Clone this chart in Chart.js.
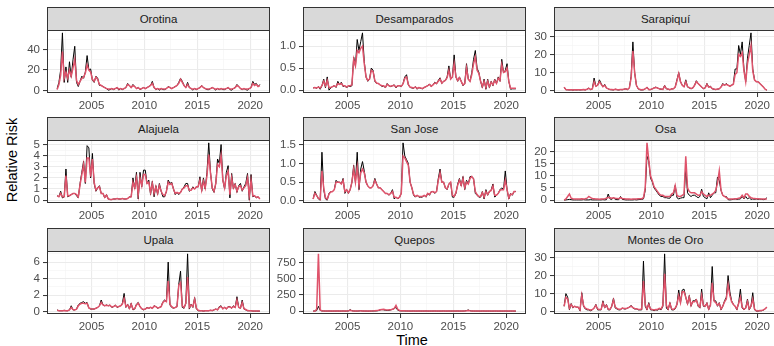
<!DOCTYPE html>
<html>
<head>
<meta charset="utf-8">
<script src="https://cdn.jsdelivr.net/npm/chart.js@4.4.0/dist/chart.umd.min.js"></script>
<style>
  html, body { margin: 0; padding: 0; background: #fff; overflow: hidden; }
  #wrap { position: relative; width: 774px; height: 346px; overflow: hidden;
          font-family: "Liberation Sans", Arial, sans-serif; }
  .strip { position: absolute; box-sizing: border-box; background: #D9D9D9;
           border: 1px solid #333333; color: #1A1A1A; font-size: 11.5px;
           text-align: center; line-height: 22px; }
  canvas { position: absolute; }
  .title { position: absolute; color: #000; font-size: 14.5px; white-space: nowrap;
           transform: translate(-50%, -50%); }
</style>
</head>
<body>
<div id="wrap">
  <div class="title" style="left:12px; top:160px; transform: translate(-50%, -50%) rotate(-90deg);">Relative Risk</div>
  <div class="title" style="left:412px; top:340px;">Time</div>
</div>
<script>
// time axis: bimonthly points from late 2001 to late 2020
const startYear = 2001.75;
const stepYears = 1 / 6;

const regions = ['Orotina', 'Desamparados', 'Sarapiquí', 'Alajuela', 'San Jose', 'Osa',
                 'Upala', 'Quepos', 'Montes de Oro'];
const yMajorSteps = [20, 0.5, 10, 1, 0.5, 5, 2, 250, 10];
const yDecimals = [0, 1, 0, 0, 1, 0, 0, 0, 0];
const xMajorStep = 5;

// observed (black) and fitted (red), one row per year 2002..2020
const orotinaObs = [2, 8,
  20, 56, 8, 23, 8, 28,
  13, 30, 43, 8, 4, 9,
  14, 12, 18, 34, 20, 21,
  10, 8, 14, 12, 5, 5,
  4, 3, 2, 0.5, 1, 2,
  1, 2, 3, 0.5, 2, 1,
  2, 3, 7, 5, 3, 6,
  4, 2, 3, 1, 2, 3,
  2, 3, 4, 5, 9, 3,
  1, 2, 0.5, 2, 1, 1,
  2, 4, 3, 2, 3, 4,
  5, 8, 12, 9, 5, 3,
  8, 3, 2, 0.5, 2, 1,
  2, 3, 5, 3, 2, 1,
  1, 2, 3, 2, 0.5, 2,
  1, 2, 1, 1, 2, 3,
  1, 0.5, 2, 3, 6, 4,
  2, 1, 2, 1, 0.5, 2,
  3, 9, 6, 7, 4, 6];
const orotinaFit = [1, 6,
  15, 38, 12, 18, 12, 20,
  14, 22, 30, 10, 6, 9,
  12, 13, 17, 25, 20, 18,
  11, 9, 13, 11, 6, 5,
  4, 3, 2, 1.5, 1.5, 2,
  1.5, 2, 3, 1.5, 2, 1.5,
  2, 3, 6, 5, 3, 5,
  4, 2, 3, 1.5, 2, 3,
  2, 3, 4, 5, 7, 3,
  1.5, 2, 1.5, 2, 1.5, 1.5,
  2, 3.5, 3, 2, 3, 4,
  5, 7, 11, 8, 5, 3,
  6, 3, 2, 1.5, 2, 1.5,
  2, 3, 4.5, 3, 2, 1.5,
  1.5, 2, 3, 2, 1.5, 2,
  1.5, 2, 1.5, 1.5, 2, 3,
  1.5, 1.5, 2, 3, 5, 4,
  2, 1.5, 2, 1.5, 1.5, 2,
  3, 7, 5, 6, 4, 5];

const desamparadosObs = [0.05, 0.06,
  0.04, 0.08, 0.02, 0.1, 0.25, 0.05,
  0.3, 0.0, 0.05, 0.08, 0.1, 0.06,
  0.2, 0.12, 0.18, 0.08, 0.1, 0.05,
  0.1, 0.08, 0.1, 0.75, 0.55, 1.15,
  0.9, 1.1, 1.3, 0.65, 0.3, 0.2,
  0.25, 0.5, 0.45, 0.2, 0.15, 0.15,
  0.12, 0.08, 0.1, 0.05, 0.15, 0.1,
  0.08, 0.1, 0.12, 0.05, 0.1, 0.1,
  0.08, 0.15, 0.3, 0.35, 0.12, 0.06,
  0.05, 0.04, 0.08, 0.02, 0.06, 0.04,
  0.03, 0.06, 0.08, 0.1, 0.14, 0.08,
  0.12, 0.18, 0.14, 0.22, 0.28, 0.15,
  0.2, 0.22, 0.3, 0.55, 0.25, 0.3,
  0.8, 0.3, 0.2, 0.3, 0.2, 0.1,
  0.15, 0.6, 0.25, 0.2, 0.4, 0.7,
  0.9, 0.5, 0.4, 0.2, 0.05, 0.25,
  0.02, 0.25, 0.05, 0.2, 0.1, 0.25,
  0.15, 0.3, 0.2, 0.7, 0.4, 0.45,
  0.6, 0.2, 0.02, 0.03, 0.03, 0.03];
const desamparadosFit = [0.05, 0.06,
  0.05, 0.07, 0.05, 0.1, 0.2, 0.1,
  0.22, 0.06, 0.06, 0.08, 0.1, 0.08,
  0.15, 0.13, 0.15, 0.1, 0.1, 0.07,
  0.1, 0.1, 0.12, 0.7, 0.55, 0.9,
  0.85, 0.95, 1.0, 0.6, 0.3, 0.22,
  0.25, 0.45, 0.42, 0.22, 0.16, 0.15,
  0.12, 0.1, 0.1, 0.07, 0.13, 0.1,
  0.09, 0.1, 0.11, 0.07, 0.1, 0.1,
  0.09, 0.14, 0.27, 0.3, 0.13, 0.07,
  0.06, 0.05, 0.07, 0.04, 0.06, 0.05,
  0.04, 0.06, 0.08, 0.1, 0.13, 0.09,
  0.12, 0.16, 0.15, 0.2, 0.25, 0.16,
  0.2, 0.22, 0.28, 0.45, 0.25, 0.3,
  0.6, 0.3, 0.22, 0.28, 0.2, 0.12,
  0.15, 0.5, 0.25, 0.2, 0.35, 0.6,
  0.75, 0.45, 0.38, 0.2, 0.08, 0.2,
  0.06, 0.2, 0.08, 0.18, 0.12, 0.22,
  0.15, 0.27, 0.22, 0.58, 0.4, 0.42,
  0.5, 0.2, 0.04, 0.04, 0.04, 0.04];

const sarapiquiObs = [2, 0.5,
  0.5, 0.4, 0.5, 0.3, 0.5, 0.4,
  0.5, 0.4, 0.5, 0.6, 0.4, 0.8,
  1.5, 0.5, 1, 7, 2.5, 3,
  6, 4, 2, 3.5, 1.5, 1,
  0.6, 0.5, 0.4, 0.8, 0.5, 0.4,
  0.6, 0.5, 0.8, 1, 0.6, 1.5,
  8, 27, 10, 3, 1, 0.5,
  0.4, 0.5, 1, 2, 0.5, 0.6,
  1, 1.5, 2, 1.5, 1, 0.8,
  0.6, 3, 1, 0.8, 0.5, 1,
  1, 2, 6, 10, 5, 3,
  2, 6, 2, 1.5, 1, 1.5,
  3, 5.5, 4, 3, 2, 1,
  1.5, 4, 2, 2.5, 1, 0.8,
  0.6, 0.8, 1, 2, 4, 3,
  4, 3, 2.5, 3, 4, 12,
  12, 25, 20, 27, 12, 5,
  18, 25, 32, 12, 6, 5,
  5, 4, 3, 2, 0.8, 0.3];
const sarapiquiFit = [2, 0.6,
  0.5, 0.5, 0.5, 0.4, 0.5, 0.5,
  0.5, 0.5, 0.5, 0.6, 0.5, 0.8,
  1.3, 0.7, 1, 5, 2.5, 3,
  5, 3.5, 2.2, 3, 1.5, 1,
  0.7, 0.6, 0.5, 0.8, 0.6, 0.5,
  0.6, 0.6, 0.8, 1, 0.7, 1.5,
  7, 22, 10, 3, 1.2, 0.6,
  0.5, 0.6, 1, 1.8, 0.7, 0.7,
  1, 1.5, 1.8, 1.5, 1, 0.9,
  0.7, 2.5, 1.1, 0.9, 0.6, 1,
  1, 2, 5.5, 9.5, 5, 3,
  2.2, 5, 2.3, 1.7, 1.2, 1.5,
  3, 5, 4, 3, 2, 1.2,
  1.5, 3.5, 2, 2.2, 1.2, 0.9,
  0.7, 0.9, 1, 2, 3.5, 3,
  3.5, 3, 2.5, 3, 3.5, 9,
  10, 20, 19, 21, 11, 5,
  15, 20, 25, 11, 6, 5,
  5, 4, 3, 2, 0.8, 0.3];

const alajuelaObs = [0.4, 0.3,
  0.8, 0.2, 0.3, 2.8, 0.3, 0.4,
  0.5, 0.6, 0.6, 0.4, 0.2, 1.5,
  2.5, 3.5, 1.5, 4.9, 4.7, 2.0,
  4.2, 1.5, 0.8, 1.1, 1.3, 0.6,
  0.6, 0.2, 0.5, 0.1, 0.05, 0.05,
  0.1, 0.1, 0.15, 0.1, 0.1, 0.15,
  0.1, 0.1, 0.15, 0.3, 0.3, 2.0,
  1.0, 2.5, 0.1, 2.5, 1.2, 2.7,
  2.7, 1.5, 1.8, 0.5, 1.7, 0.3,
  1.3, 0.5, 1.5, 0.8, 0.3, 0.3,
  0.8, 1.8, 1.5, 1.6, 1.0, 0.5,
  0.7, 0.5, 0.7, 1.0, 1.2, 1.5,
  1.5, 0.8, 0.9, 1.2, 1.0, 1.2,
  1.2, 2.1, 0.8, 2.0, 1.0, 2.5,
  5.15, 2.5, 1.0, 0.7, 1.5, 3.7,
  3.3, 5.0, 1.8, 1.0, 2.5, 3.1,
  0.2, 2.4, 1.0, 1.5, 0.7, 1.3,
  1.5, 0.8, 1.2, 1.5, 2.4, 0.0,
  2.3, 0.3, 0.4, 0.2, 0.3, 0.1];
const alajuelaFit = [0.4, 0.3,
  0.6, 0.3, 0.3, 2.2, 0.4, 0.4,
  0.5, 0.6, 0.6, 0.5, 0.3, 1.4,
  2.3, 3.2, 1.6, 3.8, 3.8, 2.1,
  3.7, 1.6, 0.9, 1.1, 1.2, 0.6,
  0.6, 0.25, 0.45, 0.12, 0.06, 0.06,
  0.1, 0.1, 0.14, 0.1, 0.1, 0.14,
  0.1, 0.1, 0.15, 0.28, 0.3, 1.6,
  1.1, 2.0, 0.5, 2.0, 1.3, 2.3,
  2.3, 1.5, 1.6, 0.7, 1.5, 0.6,
  1.2, 0.6, 1.3, 0.8, 0.5, 0.4,
  0.8, 1.6, 1.4, 1.5, 1.0, 0.6,
  0.7, 0.6, 0.7, 1.0, 1.1, 1.3,
  1.3, 0.9, 0.9, 1.1, 1.0, 1.2,
  1.2, 1.8, 0.9, 1.7, 1.1, 2.2,
  4.1, 2.4, 1.1, 0.8, 1.5, 3.2,
  3.0, 4.0, 1.8, 1.1, 2.2, 2.6,
  0.5, 2.0, 1.1, 1.4, 0.8, 1.2,
  1.3, 0.9, 1.1, 1.3, 2.0, 0.4,
  1.8, 0.4, 0.4, 0.25, 0.3, 0.1];

const sanJoseObs = [0.05, 0.25,
  0.15, 0.05, 0.02, 1.3, 0.3, 0.05,
  0.02, 0.2, 0.25, 0.25, 0.3, 0.55,
  0.5, 0.5, 0.45, 0.6, 0.2, 0.3,
  0.2, 0.3, 0.5, 0.95, 0.5, 1.3,
  0.3, 0.85, 1.05, 0.8, 0.5, 0.4,
  0.35, 0.35, 0.4, 0.6, 0.45, 0.35,
  0.35, 0.3, 0.25, 0.2, 0.2, 0.15,
  0.2, 0.3, 0.05, 0.1, 0.05, 0.1,
  0.2, 1.55, 1.2, 1.1, 1.0, 0.5,
  0.35, 0.15, 0.1, 0.15, 0.1, 0.1,
  0.1, 0.15, 0.1, 0.2, 0.15, 0.25,
  0.25, 0.2, 0.25, 0.6, 0.85, 0.5,
  0.5, 0.35, 0.3, 0.45, 0.5, 0.1,
  0.1, 0.2, 0.45, 0.6, 0.4, 0.65,
  0.3, 0.55, 0.45, 0.65, 0.65, 0.6,
  0.2, 0.15, 0.1, 0.1, 0.25, 0.05,
  0.3, 0.15, 0.25, 0.3, 0.45, 0.1,
  0.15, 0.2, 0.3, 0.35, 0.3, 0.8,
  0.3, 0.05, 0.2, 0.15, 0.25, 0.25];
const sanJoseFit = [0.05, 0.2,
  0.14, 0.07, 0.04, 0.8, 0.35, 0.08,
  0.05, 0.18, 0.24, 0.25, 0.3, 0.5,
  0.5, 0.5, 0.45, 0.55, 0.25, 0.3,
  0.22, 0.3, 0.5, 0.85, 0.5, 0.9,
  0.4, 0.75, 0.85, 0.75, 0.5, 0.4,
  0.35, 0.35, 0.4, 0.55, 0.45, 0.35,
  0.35, 0.3, 0.25, 0.2, 0.2, 0.17,
  0.2, 0.25, 0.1, 0.1, 0.07, 0.1,
  0.2, 1.2, 1.15, 1.05, 0.95, 0.5,
  0.35, 0.17, 0.12, 0.15, 0.12, 0.12,
  0.12, 0.15, 0.12, 0.2, 0.17, 0.24,
  0.25, 0.22, 0.25, 0.55, 0.75, 0.5,
  0.5, 0.35, 0.32, 0.45, 0.5, 0.15,
  0.12, 0.22, 0.42, 0.55, 0.42, 0.6,
  0.35, 0.5, 0.45, 0.6, 0.65, 0.58,
  0.25, 0.17, 0.12, 0.12, 0.22, 0.1,
  0.25, 0.17, 0.25, 0.28, 0.4, 0.15,
  0.15, 0.2, 0.28, 0.3, 0.3, 0.55,
  0.3, 0.08, 0.18, 0.17, 0.25, 0.25];

const osaObs = [0, 0.1,
  0.2, 0.3, 0.2, 0.1, 0.1, 0.1,
  0.1, 0.1, 0.1, 0.2, 0.1, 0.1,
  0.1, 0.2, 0.1, 0.1, 0.1, 0.1,
  0.1, 0.1, 0.2, 0.1, 0.2, 2.5,
  0.5, 0.3, 1.0, 0.3, 0.2, 0.2,
  1.5, 0.3, 0.2, 0.1, 0.1, 0.1,
  0.1, 0.1, 0.2, 0.1, 0.2, 0.3,
  0.3, 0.5, 4, 18, 16, 9,
  7.5, 5, 4, 3, 2, 1.5,
  1.5, 1, 1, 0.8, 0.8, 2,
  2, 6, 1, 0.5, 0.8, 1,
  1, 13.5, 3, 2, 1.5, 2,
  2, 1.5, 1, 1.5, 4.5, 1.5,
  1, 0.5, 3, 1, 2, 3,
  3, 9.5, 8, 4, 2, 1.5,
  1.5, 0.2, 0.1, 0.2, 0.3, 0.5,
  0.3, 0.4, 0.5, 1.5, 0.5, 1.5,
  0.5, 1, 0.3, 0.5, 0.3, 0.5,
  0.3, 0.4, 0.3, 0.2, 0.3, 1.0];
const osaFit = [0, 0.5,
  1.5, 2.5, 0.8, 0.6, 0.5, 0.5,
  0.5, 0.5, 0.6, 0.5, 0.6, 0.8,
  1.5, 1.0, 0.7, 0.6, 0.5, 0.5,
  0.4, 0.5, 0.5, 0.6, 0.8, 1.2,
  1, 0.8, 1, 0.8, 0.7, 0.6,
  1, 0.7, 0.6, 0.5, 0.5, 0.5,
  0.4, 0.5, 0.5, 0.5, 0.6, 0.6,
  0.6, 1, 5, 23.5, 16.5, 10,
  8, 5.5, 4.5, 3.5, 2.5, 2,
  2, 1.5, 1.5, 1.5, 1.5, 2.5,
  3, 6, 2, 1.5, 1.5, 2,
  2.5, 18, 5, 3.5, 3, 3,
  3, 2.5, 2, 2, 3.5, 2.5,
  2, 1.5, 2, 2, 2.5, 3,
  4, 7, 12, 4, 2, 1.5,
  1, 0.6, 0.5, 0.5, 0.5, 0.6,
  0.6, 0.8, 1, 2, 1, 2.5,
  2.5, 1.5, 1, 0.8, 0.7, 0.6,
  0.6, 0.5, 0.5, 0.5, 0.5, 0.5];

const upalaObs = [0.2, 0.1,
  0.1, 0.1, 0.15, 0.1, 0.1, 0.2,
  0.7, 0.2, 0.2, 0.3, 0.8, 1.0,
  1.1, 1.2, 1.0, 1.1, 0.4, 0.3,
  0.3, 0.3, 0.4, 0.5, 0.7, 1.4,
  0.8, 0.7, 0.8, 0.7, 0.8, 0.5,
  0.6, 0.8, 0.5, 0.6, 0.7, 1.0,
  2.2, 0.5, 0.9, 0.3, 1.0, 0.2,
  0.3, 0.9, 1.1, 0.6, 0.3, 0.2,
  0.3, 0.5, 0.4, 0.5, 0.4, 0.7,
  0.6, 0.4, 0.5, 0.6, 1.2, 1.4,
  1.2, 6.0, 0.8, 0.5, 0.4, 0.5,
  0.6, 3.3, 4.9, 0.5, 0.4, 1.0,
  7.0, 0.3, 0.9, 0.5, 1.7, 0.3,
  0.1, 0.1, 0.1, 0.05, 0.1, 0.1,
  0.1, 0.15, 0.1, 0.2, 0.3, 0.2,
  0.6, 0.7, 0.3, 0.5, 0.3, 0.6,
  0.6, 0.4, 0.7, 0.5, 1.8, 0.5,
  0.4, 1.4, 0.3, 0.2, 0.1, 0.1,
  0.1, 0.05, 0.05, 0.05, 0.05, 0.05];
const upalaFit = [0.15, 0.1,
  0.1, 0.1, 0.12, 0.1, 0.1, 0.2,
  0.5, 0.25, 0.2, 0.3, 0.7, 0.9,
  1.0, 1.0, 0.95, 1.0, 0.45, 0.35,
  0.3, 0.3, 0.4, 0.5, 0.7, 1.1,
  0.8, 0.7, 0.75, 0.7, 0.75, 0.55,
  0.6, 0.75, 0.55, 0.6, 0.7, 0.9,
  1.6, 0.6, 0.8, 0.4, 0.9, 0.3,
  0.35, 0.8, 1.0, 0.6, 0.35, 0.25,
  0.3, 0.45, 0.4, 0.5, 0.4, 0.65,
  0.6, 0.45, 0.5, 0.6, 1.1, 1.3,
  1.2, 3.7, 0.9, 0.6, 0.45, 0.5,
  0.6, 3.2, 3.5, 0.7, 0.5, 1.0,
  4.2, 0.5, 0.8, 0.6, 1.5, 0.4,
  0.15, 0.1, 0.1, 0.08, 0.1, 0.1,
  0.1, 0.15, 0.12, 0.2, 0.3, 0.2,
  0.5, 0.6, 0.35, 0.5, 0.35, 0.55,
  0.55, 0.45, 0.6, 0.5, 1.4, 0.5,
  0.45, 1.1, 0.35, 0.25, 0.12, 0.1,
  0.1, 0.07, 0.06, 0.06, 0.06, 0.06];

const queposObs = [3, 5,
  10, 75, 12, 5, 4, 3,
  3, 4, 3, 2, 3, 3,
  4, 3, 3, 4, 3, 3,
  5, 25, 8, 4, 3, 3,
  5, 8, 4, 3, 3, 2,
  3, 3, 4, 5, 6, 10,
  20, 25, 22, 15, 12, 15,
  20, 30, 40, 60, 15, 8,
  5, 6, 5, 4, 4, 3,
  3, 4, 3, 3, 4, 3,
  3, 3, 4, 3, 3, 3,
  3, 4, 3, 3, 3, 3,
  4, 3, 3, 4, 3, 3,
  3, 3, 4, 3, 3, 3,
  5, 10, 20, 8, 4, 3,
  3, 3, 3, 2, 3, 3,
  2, 3, 3, 2, 2, 3,
  3, 2, 3, 2, 2, 3,
  2, 2, 3, 2, 2, 2];
const queposFit = [2, 4,
  30, 880, 20, 6, 5, 5,
  5, 5, 5, 4, 5, 5,
  5, 5, 5, 5, 5, 5,
  6, 15, 8, 5, 5, 5,
  6, 7, 5, 5, 5, 4,
  5, 5, 6, 8, 10, 15,
  22, 28, 30, 22, 20, 22,
  25, 30, 45, 90, 30, 12,
  8, 8, 7, 6, 6, 5,
  5, 5, 5, 5, 5, 5,
  5, 5, 5, 5, 5, 5,
  5, 5, 5, 5, 5, 5,
  5, 5, 5, 5, 5, 5,
  5, 5, 5, 5, 5, 5,
  5, 8, 12, 8, 5, 4,
  4, 4, 4, 4, 4, 4,
  4, 4, 4, 4, 4, 4,
  4, 4, 4, 4, 4, 4,
  4, 4, 4, 4, 4, 4];

const montesObs = [3, 10,
  8, 1, 4.5, 2, 3, 2.5,
  2.5, 0.5, 10.5, 3, 1.5, 1,
  1, 0.5, 1, 2, 4, 1,
  1, 1, 6, 2, 4, 1,
  1, 3, 7.5, 2, 1.5, 1,
  1, 2, 1.5, 1.5, 2, 2.5,
  3.5, 2, 1.5, 1.5, 1, 1,
  1, 28, 3, 1, 5, 1,
  1, 0.5, 1, 0.8, 1.5, 1,
  3, 32, 2, 1, 5, 1,
  1, 1.5, 4, 12, 5, 12,
  12.5, 8, 4, 9, 3, 6,
  6, 7, 3, 2, 12.5, 3,
  3, 5, 1, 4, 25, 6,
  6, 3, 5, 1, 3, 6,
  8, 20, 11, 6, 4, 3,
  1, 5, 12.5, 2, 1, 2,
  7, 1, 3, 10.5, 1, 0.3,
  0.3, 0.5, 0.5, 0.8, 1.5, 2.5];
const montesFit = [3, 8,
  7, 2, 4, 2.5, 3, 2.5,
  2.5, 1, 9, 3.5, 2, 1.5,
  1.2, 1, 1.2, 2, 3.5, 1.5,
  1.2, 1.3, 5, 2.5, 3.5, 1.5,
  1.3, 3, 6.5, 2.5, 1.8, 1.3,
  1.3, 2, 1.8, 1.7, 2, 2.5,
  3, 2.2, 1.8, 1.6, 1.3, 1.2,
  1.5, 17, 4, 1.5, 4, 1.5,
  1.2, 1, 1.2, 1.2, 1.8, 1.5,
  3.5, 21, 3.5, 1.5, 4.5, 1.5,
  1.3, 2, 4, 9, 5, 11,
  11, 8, 4.5, 8, 3.5, 5.5,
  5.5, 6.5, 3.5, 2.5, 9, 3.5,
  3, 4.5, 1.5, 3.5, 16, 6,
  5, 3.5, 4.5, 1.5, 3, 5.5,
  7, 15, 9, 5.5, 4, 3,
  1.5, 4.5, 8, 2.5, 1.3, 2,
  5.5, 1.5, 3, 7, 1.5, 0.5,
  0.4, 0.6, 0.7, 1, 1.6, 2.5];

const observed = [orotinaObs, desamparadosObs, sarapiquiObs, alajuelaObs, sanJoseObs,
                  osaObs, upalaObs, queposObs, montesObs];
const fitted = [orotinaFit, desamparadosFit, sarapiquiFit, alajuelaFit, sanJoseFit,
                osaFit, upalaFit, queposFit, montesFit];
const times = orotinaObs.map((_, i) => startYear + i * stepYears);

// layout (px)
const colLeft = [47, 303, 554];
const stripTop = [7, 117, 228];
const panelW = 223, panelH = 63, stripH = 23;
const yAxisW = 40, xAxisH = 22, padTop = 8;

Chart.defaults.font.family = '"Liberation Sans", Arial, sans-serif';

function isMajor(v, step) {
  const r = v / step;
  return Math.abs(r - Math.round(r)) < 1e-6;
}

function expand(lo, hi) {
  const pad = (hi - lo) * 0.05;
  return [lo - pad, hi + pad];
}

const panelBorder = {
  id: 'panelBorder',
  afterDraw(chart) {
    const a = chart.chartArea, c = chart.ctx;
    c.save();
    c.strokeStyle = '#333333';
    c.lineWidth = 1;
    c.strokeRect(a.left + 0.5, a.top + 0.5, a.right - a.left - 1, a.bottom - a.top - 1);
    c.restore();
  }
};

const wrap = document.getElementById('wrap');
const [xMin, xMax] = expand(times[0], times[times.length - 1]);

regions.forEach((name, k) => {
  const col = k % 3, row = Math.floor(k / 3);
  const left = colLeft[col], top = stripTop[row];

  const strip = document.createElement('div');
  strip.className = 'strip';
  strip.style.left = left + 'px';
  strip.style.top = top + 'px';
  strip.style.width = panelW + 'px';
  strip.style.height = (stripH + 1) + 'px';
  strip.textContent = name;
  wrap.appendChild(strip);

  const canvas = document.createElement('canvas');
  canvas.width = yAxisW + panelW;
  canvas.height = padTop + panelH + xAxisH;
  canvas.style.left = (left - yAxisW) + 'px';
  canvas.style.top = (top + stripH - padTop) + 'px';
  wrap.appendChild(canvas);

  const obs = observed[k], fit = fitted[k];
  const all = obs.concat(fit);
  const [yMin, yMax] = expand(Math.min(...all), Math.max(...all));
  const yStep = yMajorSteps[k];

  const gridOpts = (step) => ({
    color: ctx => (ctx.tick && isMajor(ctx.tick.value, step)) ? '#EBEBEB' : '#F3F3F3',
    lineWidth: ctx => (ctx.tick && isMajor(ctx.tick.value, step)) ? 1.1 : 0.6,
    tickColor: ctx => (ctx.tick && isMajor(ctx.tick.value, step)) ? '#333333' : 'rgba(0,0,0,0)',
    tickLength: 4,
    tickWidth: 1
  });

  new Chart(canvas, {
    type: 'line',
    data: {
      datasets: [
        {
          data: times.map((t, i) => ({ x: t, y: obs[i] })),
          borderColor: '#000000',
          borderWidth: 1,
          order: 2
        },
        {
          data: times.map((t, i) => ({ x: t, y: fit[i] })),
          borderColor: '#DF536B',
          borderWidth: 1.5,
          order: 1
        }
      ]
    },
    options: {
      responsive: false,
      animation: false,
      devicePixelRatio: 1,
      layout: { padding: { top: padTop, left: 0, right: 0, bottom: 0 } },
      elements: { point: { radius: 0 }, line: { tension: 0 } },
      plugins: { legend: { display: false }, tooltip: { enabled: false } },
      scales: {
        x: {
          type: 'linear',
          min: xMin,
          max: xMax,
          afterFit: s => { s.height = xAxisH; s.paddingLeft = 0; s.paddingRight = 0; },
          border: { display: false },
          grid: gridOpts(xMajorStep),
          ticks: {
            stepSize: xMajorStep / 2,
            includeBounds: false,
            autoSkip: false,
            maxRotation: 0,
            padding: 2,
            color: '#4D4D4D',
            font: { size: 11.5 },
            callback: v => isMajor(v, xMajorStep) ? String(Math.round(v)) : ''
          }
        },
        y: {
          min: yMin,
          max: yMax,
          afterFit: s => { s.width = yAxisW; s.paddingTop = 0; s.paddingBottom = 0; },
          border: { display: false },
          grid: gridOpts(yStep),
          ticks: {
            stepSize: yStep / 2,
            includeBounds: false,
            autoSkip: false,
            padding: 3,
            color: '#4D4D4D',
            font: { size: 11.5 },
            callback: v => isMajor(v, yStep) ? v.toFixed(yDecimals[k]) : ''
          }
        }
      }
    },
    plugins: [panelBorder]
  });
});
</script>
</body>
</html>
